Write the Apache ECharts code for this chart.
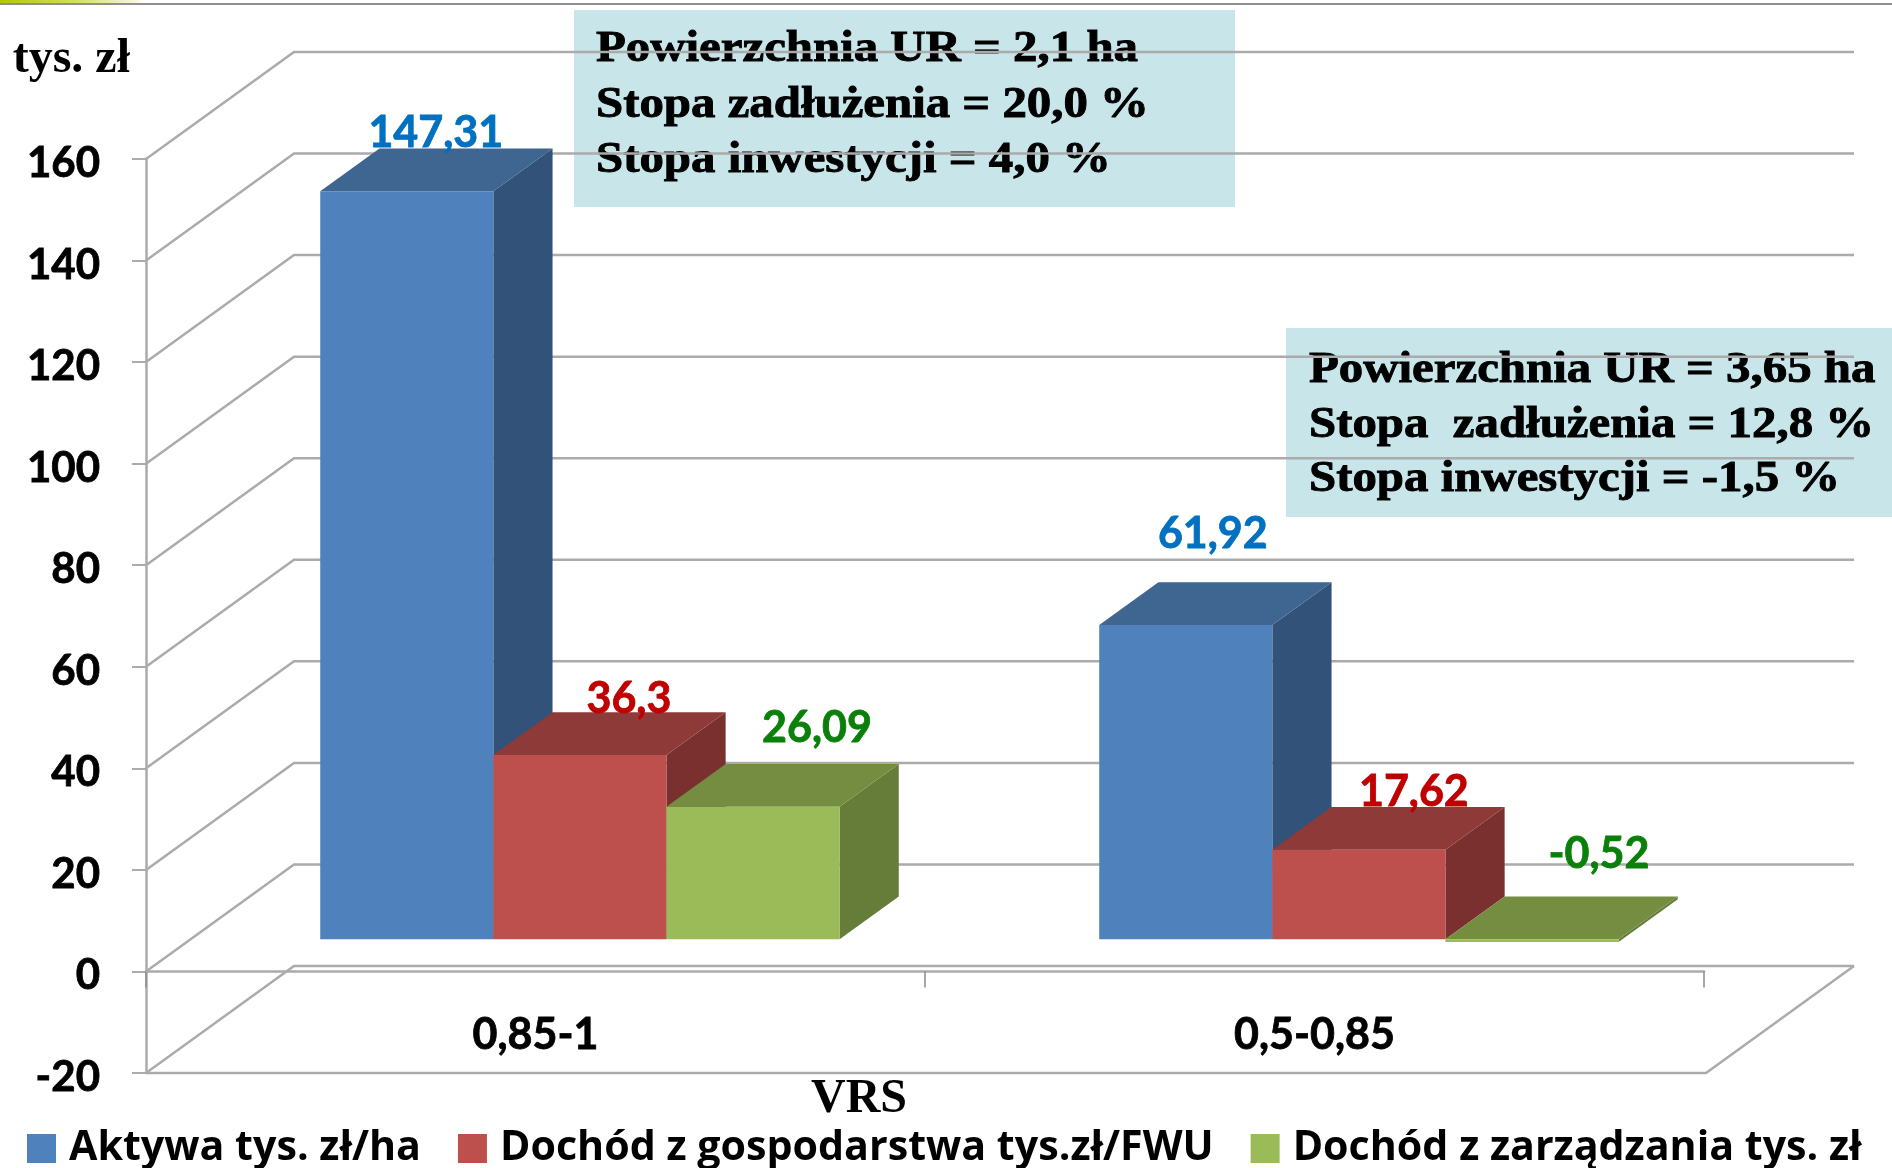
<!DOCTYPE html>
<html>
<head>
<meta charset="utf-8">
<style>html,body{margin:0;padding:0;background:#fff}#c{width:1892px;height:1168px}</style>
<script src="https://cdn.jsdelivr.net/npm/echarts@6/dist/echarts.min.js"></script>
</head>
<body>
<div id="c"></div>
<script>
const categories = ['0,85-1', '0,5-0,85'];
const aktywa = [147.31, 61.92];
const dochodGosp = [36.3, 17.62];
const dochodZarz = [26.09, -0.52];
const yTicks = [160, 140, 120, 100, 80, 60, 40, 20, 0, -20];
const seriesNames = ['Aktywa tys. zł/ha', 'Dochód z gospodarstwa tys.zł/FWU', 'Dochód z zarządzania tys. zł'];
const boxLeft = ['Powierzchnia UR = 2,1 ha', 'Stopa zadłużenia = 20,0 %', 'Stopa inwestycji = 4,0 %'];
const boxRight = ['Powierzchnia UR = 3,65 ha', 'Stopa  zadłużenia = 12,8 %', 'Stopa inwestycji = -1,5 %'];

const WALL_DX = 148, WALL_DY = -107, BAR_T0 = 0.3, BAR_T1 = 0.7, FLOOR_EXTRA = 2;
const GRID = '#ABABAB';
const SANS = 'Lato', SERIF = '"Liberation Serif"';
const palettes = [
  {front:'#4F81BD', top:'#3F6591', side:'#325279', label:'#0070C0', off:[[29,-58],[27,-91]]},
  {front:'#BD504C', top:'#8E3A38', side:'#7A302E', label:'#C00000', off:[[49,-56],[55,-58]]},
  {front:'#9BBB59', top:'#748D41', side:'#667C39', label:'#0A7F0A', off:[[64,-79],[67,-88]]}
];

function wallItem(params, api) {
  const v = api.value(1);
  const band = api.size([1, 0])[0];
  const l = api.coord([0, v]);
  const r = api.coord([1, v]);
  const xL = l[0] - band / 2, xR = r[0] + band / 2 + FLOOR_EXTRA, y = l[1];
  const lineStyle = {stroke: GRID, lineWidth: 2.5, fill: null};
  const children = [{
    type: 'polyline', shape: {points: [[xL, y], [xL + WALL_DX, y + WALL_DY], [xR + WALL_DX, y + WALL_DY]]}, style: lineStyle
  }];
  if (v === -20) {
    children.push({type: 'polyline', shape: {points: [[xL, y], [xR, y], [xR + WALL_DX, y + WALL_DY]]}, style: lineStyle});
  }
  return {type: 'group', children};
}

function barRenderer(si) {
  return function (params, api) {
    const cat = api.value(0), v = api.value(1);
    const p = palettes[si];
    const band = api.size([1, 0])[0];
    const bw = band / 4.5;
    const center = api.coord([cat, 0])[0];
    const y0 = api.coord([cat, 0])[1];
    const yV = api.coord([cat, v])[1];
    const topY = Math.min(y0, yV), botY = Math.max(y0, yV);
    const sx = center - 1.5 * bw + si * bw;
    const fx = WALL_DX * BAR_T0, fy = WALL_DY * BAR_T0;
    const bx = WALL_DX * BAR_T1, by = WALL_DY * BAR_T1;
    const x0 = sx + fx, x1 = sx + bw + fx;
    const dx = bx - fx, dy = by - fy;
    const yT = topY + fy, yB = botY + fy;
    const off = p.off[cat];
    const text = String(v).replace('.', ',');
    return {type: 'group', children: [
      {type: 'polygon', shape: {points: [[x1, yT], [x1 + dx, yT + dy], [x1 + dx, yB + dy], [x1, yB]]}, style: {fill: p.side}},
      {type: 'polygon', shape: {points: [[x0, yT], [x0 + dx, yT + dy], [x1 + dx, yT + dy], [x1, yT]]}, style: {fill: p.top}},
      {type: 'rect', shape: {x: x0, y: yT, width: bw, height: yB - yT}, style: {fill: p.front}},
      {type: 'text', z2: 50, style: {
        text, x: (x0 + x1) / 2 + off[0], y: yV + fy + off[1], align: 'center', verticalAlign: 'middle',
        fill: p.label, stroke: p.label, lineWidth: 0.8, font: 'bold 43px ' + SANS
      }}
    ]};
  };
}

function box(x, y, w, h, lines, tx, ty, step, scaleX) {
  return {
    type: 'group', z: 10, children: [
      {type: 'rect', shape: {x, y, width: w, height: h}, style: {fill: 'rgba(190,224,229,0.84)'}},
      ...lines.map((t, i) => ({
        type: 'text', x: tx, y: ty + i * step, scaleX: scaleX,
        style: {text: t, x: 0, y: 0, verticalAlign: 'middle', fill: '#000', stroke: '#000', lineWidth: 0.9, font: 'bold 44px ' + SERIF}
      }))
    ]
  };
}

const barData = [aktywa, dochodGosp, dochodZarz];
const chart = echarts.init(document.getElementById('c'));
chart.setOption({
  animation: false,
  backgroundColor: '#fff',
  color: palettes.map(p => p.front),
  grid: {left: 146, top: 159, width: 1558, height: 914, containLabel: false, outerBoundsMode: 'none'},
  legend: {
    data: seriesNames, left: 27, top: 1128, padding: 0, icon: 'rect', itemWidth: 29, itemHeight: 29, itemGap: 37,
    textStyle: {fontFamily: 'Open Sans', fontWeight: 'bold', fontSize: 41.2, color: '#000', padding: [0, 0, 0, 8]}
  },
  xAxis: {
    type: 'category', data: categories,
    name: 'VRS', nameLocation: 'middle', nameGap: 3,
    nameTextStyle: {fontFamily: SERIF, fontWeight: 'bold', fontSize: 48, color: '#000', padding: [0, 132, 0, 0]},
    axisLine: {lineStyle: {color: GRID, width: 2.5}},
    axisTick: {show: true, alignWithLabel: false, lineStyle: {color: '#8C8C8C', width: 1.5}, length: 16, inside: false},
    axisLabel: {margin: -59, fontFamily: SANS, fontWeight: 'bold', fontSize: 43, color: '#000', textBorderColor: '#000', textBorderWidth: 0.8}
  },
  yAxis: {
    type: 'value', min: -20, max: 160, interval: 20,
    name: 'tys. zł', nameLocation: 'end', nameGap: 75,
    nameTextStyle: {fontFamily: SERIF, fontWeight: 'bold', fontSize: 48, color: '#000', align: 'right', padding: [0, 16, 0, 0]},
    axisLine: {show: true, onZero: false, lineStyle: {color: GRID, width: 2.5}},
    axisTick: {show: true, length: 14, lineStyle: {color: GRID, width: 2}},
    splitLine: {show: false},
    axisLabel: {
      margin: 46, color: '#000', formatter: v => '{a|' + v + '}',
      rich: {a: {fontFamily: SANS, fontWeight: 'bold', fontSize: 42, color: '#000', padding: [9, 0, 0, 0], textBorderColor: '#000', textBorderWidth: 0.8}}
    }
  },
  series: [
    {type: 'custom', name: 'walls', silent: true, z: 1, renderItem: wallItem, encode: {x: 0, y: 1},
     data: yTicks.map(v => [0, v])},
    ...seriesNames.map((name, si) => ({
      type: 'custom', name, z: 3 + si, renderItem: barRenderer(si), encode: {x: 0, y: 1}, clip: false,
      itemStyle: {color: palettes[si].front},
      data: barData[si].map((v, i) => [i, v])
    }))
  ],
  graphic: [
    {type: 'rect', z: 20, shape: {x: 0, y: 0, width: 140, height: 3},
     style: {fill: new echarts.graphic.LinearGradient(0, 0, 1, 0, [{offset: 0, color: '#B4C800'}, {offset: 0.5, color: '#CFDC5A'}, {offset: 1, color: '#FAFAE6'}])}},
    {type: 'rect', z: 20, shape: {x: 0, y: 3, width: 1892, height: 2}, style: {fill: '#8F8F8F'}},
    box(574, 10, 661, 197, boxLeft, 596, 50, 55.5, 1.11),
    box(1286, 328, 606, 189, boxRight, 1309, 371, 54.5, 1.11)
  ]
});
</script>
</body>
</html>
